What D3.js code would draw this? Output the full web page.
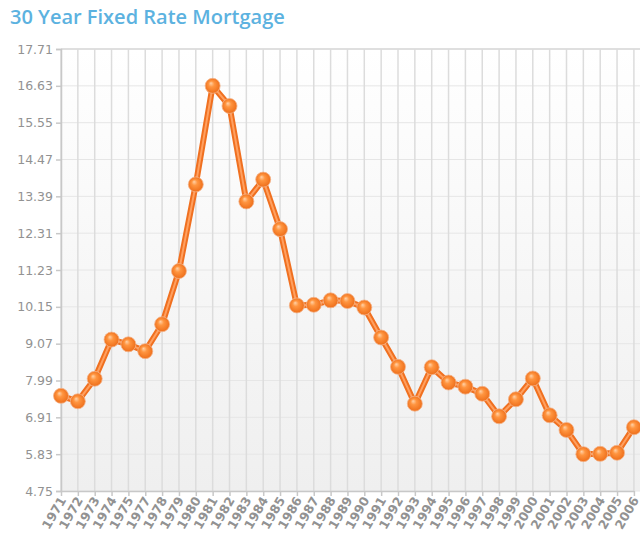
<!DOCTYPE html>
<html>
<head>
<meta charset="utf-8">
<script src="https://cdn.jsdelivr.net/npm/d3@7"></script>
<style>
  html, body { margin: 0; padding: 0; background: #fff; }
  svg { display: block; }
</style>
</head>
<body>
<div id="chart"></div>
<script>
const years = ['1971', '1972', '1973', '1974', '1975', '1977', '1978', '1979', '1980', '1981',
  '1982', '1983', '1984', '1985', '1986', '1987', '1988', '1989', '1990', '1991',
  '1992', '1993', '1994', '1995', '1996', '1997', '1998', '1999', '2000', '2001',
  '2002', '2003', '2004', '2005', '2006'];
const rates = [7.54, 7.38, 8.04, 9.19, 9.05, 8.85, 9.64, 11.20, 13.74, 16.63,
  16.04, 13.24, 13.88, 12.43, 10.19, 10.21, 10.34, 10.32, 10.13, 9.25,
  8.39, 7.31, 8.38, 7.93, 7.81, 7.60, 6.94, 7.44, 8.05, 6.97,
  6.54, 5.83, 5.84, 5.87, 6.62];
const yTicks = [4.75, 5.83, 6.91, 7.99, 9.07, 10.15, 11.23, 12.31, 13.39, 14.47, 15.55, 16.63, 17.71];

const width = 640;
const height = 536;
const plotLeft = 61;
const plotTop = 49;
const plotBottom = 491;
const step = 16.85;

const svg = d3.select('#chart').append('svg')
  .attr('width', width)
  .attr('height', height);

const defs = svg.append('defs');
const bg = defs.append('linearGradient')
  .attr('id', 'bg').attr('x1', 0).attr('y1', 0).attr('x2', 0).attr('y2', 1);
bg.append('stop').attr('offset', '0%').attr('stop-color', '#ffffff');
bg.append('stop').attr('offset', '100%').attr('stop-color', '#efefef');

const dot = defs.append('radialGradient')
  .attr('id', 'dot').attr('cx', '50%').attr('cy', '50%').attr('r', '55%')
  .attr('fx', '38%').attr('fy', '32%');
dot.append('stop').attr('offset', '0%').attr('stop-color', '#ffd2a8');
dot.append('stop').attr('offset', '35%').attr('stop-color', '#ff9540');
dot.append('stop').attr('offset', '100%').attr('stop-color', '#ec6a16');

const x = d3.scalePoint()
  .domain(years)
  .range([plotLeft, plotLeft + step * (years.length - 1)]);

const y = d3.scaleLinear()
  .domain([4.75, 17.71])
  .range([plotBottom, plotTop]);

// plot background, runs past the right edge
svg.append('rect')
  .attr('x', plotLeft).attr('y', plotTop)
  .attr('width', width - plotLeft + 20).attr('height', plotBottom - plotTop)
  .attr('fill', 'url(#bg)');

// horizontal grid
svg.append('g')
  .selectAll('line')
  .data(yTicks)
  .join('line')
  .attr('x1', plotLeft).attr('x2', width)
  .attr('y1', d => y(d)).attr('y2', d => y(d))
  .attr('stroke', d => d === 17.71 ? '#d4d4d4' : '#e6e6e6')
  .attr('stroke-width', d => d === 17.71 ? 1.5 : 1);

// vertical grid
svg.append('g')
  .selectAll('line')
  .data(years)
  .join('line')
  .attr('x1', d => x(d)).attr('x2', d => x(d))
  .attr('y1', plotTop).attr('y2', plotBottom)
  .attr('stroke', '#dcdcdc')
  .attr('stroke-width', 1.5);

const axisColor = '#c8c8c8';

// y axis
const yAxis = svg.append('g')
  .attr('transform', `translate(${plotLeft},0)`)
  .call(d3.axisLeft(y).tickValues(yTicks).tickFormat(d3.format('.2f')).tickSize(5).tickPadding(3));
yAxis.select('.domain').attr('stroke', axisColor).attr('stroke-width', 1.5);
yAxis.selectAll('.tick line').attr('stroke', axisColor).attr('stroke-width', 1.5);
yAxis.selectAll('.tick text')
  .attr('fill', '#929292')
  .attr('font-family', 'Verdana, "DejaVu Sans", sans-serif')
  .attr('font-size', 12.5);

// x axis
const xAxis = svg.append('g')
  .attr('transform', `translate(0,${plotBottom})`)
  .call(d3.axisBottom(x).tickSize(5).tickSizeOuter(0));
xAxis.select('.domain').attr('stroke', axisColor).attr('stroke-width', 1.5);
xAxis.selectAll('.tick line').attr('stroke', axisColor).attr('stroke-width', 1.5);
xAxis.selectAll('.tick text')
  .attr('fill', '#929292')
  .attr('font-family', 'Verdana, "DejaVu Sans", sans-serif')
  .attr('font-size', 12.5)
  .attr('font-weight', 'bold')
  .attr('text-anchor', 'end')
  .attr('dy', null)
  .attr('transform', 'translate(5,9) rotate(-60)')
  .attr('x', 0).attr('y', 0);

// series line
const line = d3.line()
  .x((d, i) => x(years[i]))
  .y(d => y(d));

svg.append('path')
  .datum(rates)
  .attr('fill', 'none')
  .attr('stroke', '#f07020')
  .attr('stroke-width', 6)
  .attr('stroke-linejoin', 'round')
  .attr('d', line);

svg.append('path')
  .datum(rates)
  .attr('fill', 'none')
  .attr('stroke', '#ffa060')
  .attr('stroke-width', 2)
  .attr('stroke-linejoin', 'round')
  .attr('d', line);

svg.append('g')
  .selectAll('circle')
  .data(rates)
  .join('circle')
  .attr('cx', (d, i) => x(years[i]))
  .attr('cy', d => y(d))
  .attr('r', 7.5)
  .attr('fill', 'url(#dot)')
  .attr('stroke', '#f4b48a')
  .attr('stroke-width', 0.8);

// title
svg.append('text')
  .attr('x', 10)
  .attr('y', 24)
  .attr('fill', '#5cb2e0')
  .attr('font-family', '"Open Sans", sans-serif')
  .attr('font-weight', 600)
  .attr('font-size', 20)
  .text('30 Year Fixed Rate Mortgage');
</script>
</body>
</html>
